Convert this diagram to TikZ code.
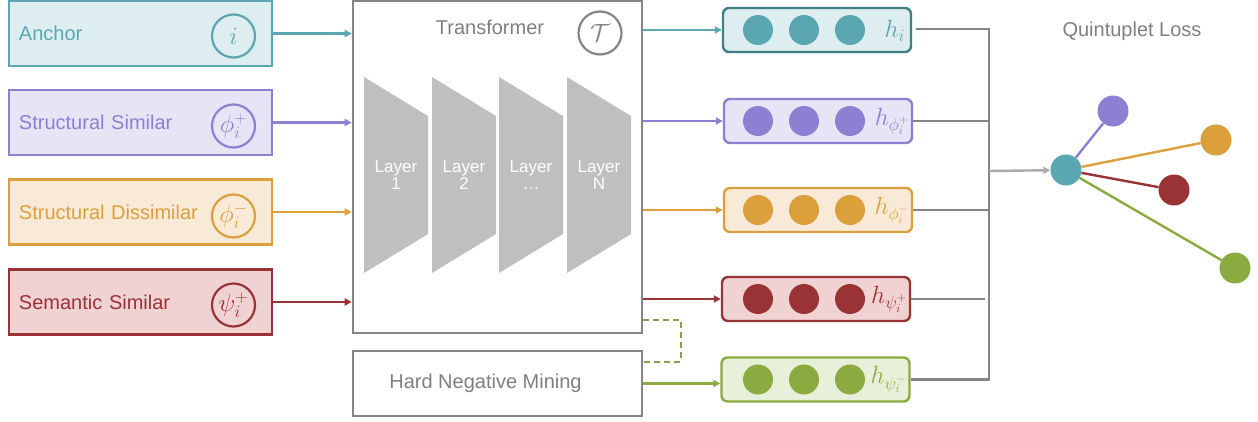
\documentclass[tikz,border=0pt]{standalone}
\usepackage{fontspec}
\setmainfont{Liberation Sans}
\usetikzlibrary{arrows.meta,calc}
\definecolor{cA}{HTML}{5AA7B1}
\definecolor{cAd}{HTML}{3F7F88}
\definecolor{fA}{HTML}{DDEDF0}
\definecolor{cP}{HTML}{8B80D1}
\definecolor{fP}{HTML}{E8E4F6}
\definecolor{cO}{HTML}{DBA03B}
\definecolor{fO}{HTML}{F8EAD6}
\definecolor{cR}{HTML}{993336}
\definecolor{fR}{HTML}{F0D2D3}
\definecolor{cG}{HTML}{8BAA40}
\definecolor{fG}{HTML}{E7F0D8}
\definecolor{gline}{HTML}{858585}
\definecolor{gtext}{HTML}{7F7F7F}
\definecolor{glayer}{HTML}{BFBFBF}
\begin{document}
\begin{tikzpicture}[x=1pt,y=-1pt,
  font=\fontsize{20}{24}\selectfont,
  inbox/.style={draw=#1, line width=2.4pt, text=#1, minimum width=263, minimum height=65,
     text width=243, inner xsep=10, align=left, anchor=center},
  symc/.style={circle, draw=#1, text=#1, line width=2.2pt, minimum size=43, inner sep=0pt,
     font=\fontsize{23}{26}\selectfont},
  inarrow/.style={draw=#1, line width=2.6pt, -{Triangle[length=7,width=7]}},
  emb/.style={draw=#1, line width=2.4pt, rounded corners=6, minimum width=188, minimum height=44},
  dot/.style={circle, fill=#1, minimum size=30, inner sep=0pt},
  hlab/.style={text=#1, anchor=east, inner sep=0pt, font=\fontsize{23}{26}\selectfont},
  layer/.style={fill=glayer, draw=none},
  laytext/.style={text=white, font=\fontsize{17}{17}\selectfont, align=center},
  gl/.style={draw=gline, line width=2.3pt},
  lossdot/.style={circle, fill=#1, minimum size=31, inner sep=0pt},
  losslink/.style={draw=#1, line width=2.4pt},
]
\useasboundingbox (0,0) rectangle (1258,421);

% input boxes
\node[inbox=cA, fill=fA] (anc) at (140.5,33.5) {Anchor};
\node[inbox=cP, fill=fP] (ss) at (140.5,122.5) {Structural Similar};
\node[inbox=cO, fill=fO] (sd) at (140.5,212) {Structural Dissimilar};
\node[inbox=cR, fill=fR] (sem) at (140.5,302) {Semantic Similar};
\node[symc=cA] (cAnc) at (233.5,36) {$i$};
\node[symc=cP] (cSs) at (233.5,126) {$\phi_i^+$};
\node[symc=cO] (cSd) at (233.5,216) {$\phi_i^-$};
\node[symc=cR] (cSem) at (233.5,305) {$\psi_i^+$};

% transformer
\node[draw=gline, line width=2.6pt, minimum width=289, minimum height=332] (tr) at (497.5,167) {};
\node[text=gtext] (trt) at (490,27) {Transformer};
\node[circle, draw=gline, text=gline, line width=2.2pt, minimum size=43, inner sep=0pt, font=\fontsize{23}{26}\selectfont] (trc) at (600,33) {$\mathcal{T}$};
\foreach \x/\t [count=\k] in {364/1,432/2,499/\dots,567/N}{
  \fill[layer] (\x,77) -- ++(64,39) -- ++(0,118) -- ++(-64,39) -- cycle;
  \node[laytext] (lay\k) at (\x+32,175) {Layer\\\t};
}
\node[draw=gline, line width=2.6pt, minimum width=289, minimum height=65, text=gtext] (hnm) at (497.5,383.5) {\hspace*{-24pt}Hard Negative Mining};

% input arrows
\draw[inarrow=cA] (anc.east) -- (anc.east -| tr.west);
\draw[inarrow=cP] (ss.east) -- (ss.east -| tr.west);
\draw[inarrow=cO] (sd.east) -- (sd.east -| tr.west);
\draw[inarrow=cR] (sem.east) -- (sem.east -| tr.west);

% embeddings
\node[emb=cAd, fill=fA] (e1) at (817,30) {};
\node[emb=cP, fill=fP] (e2) at (818,121) {};
\node[emb=cO, fill=fO] (e3) at (818,210) {};
\node[emb=cR, fill=fR] (e4) at (816,299) {};
\node[emb=cG, fill=fG] (e5) at (815.5,379.5) {};
\foreach \e/\c in {e1/cA,e2/cP,e3/cO,e4/cR,e5/cG}{
  \node[dot=\c] (\e a) at ($(\e.center -| 758,0)$) {};
  \node[dot=\c] (\e b) at ($(\e.center -| 804,0)$) {};
  \node[dot=\c] (\e c) at ($(\e.center -| 850,0)$) {};
}
\node[hlab=cA] (h1) at ($(e1.east)+(-7,1)$) {$h_i$};
\node[hlab=cP] (h2) at ($(e2.east)+(-4,0)$) {$h_{\phi_i^+}$};
\node[hlab=cO] (h3) at ($(e3.east)+(-4,0)$) {$h_{\phi_i^-}$};
\node[hlab=cR] (h4) at ($(e4.east)+(-4,0)$) {$h_{\psi_i^+}$};
\node[hlab=cG] (h5) at ($(e5.east)+(-4,0)$) {$h_{\psi_i^-}$};

% output arrows
\draw[inarrow=cA] (tr.east |- e1.west) -- (e1.west);
\draw[inarrow=cP] (tr.east |- e2.west) -- (e2.west);
\draw[inarrow=cO] (tr.east |- e3.west) -- (e3.west);
\draw[inarrow=cR] (tr.east |- e4.west) -- (e4.west);
\draw[inarrow=cG] (hnm.east) -- (hnm.east -| e5.west);

% dashed link
\coordinate (dk) at (681,0);
\draw[draw=cG!80!gray, line width=1.8pt, dash pattern=on 6pt off 4pt]
  ($(tr.east)+(0,153)$) -| ($(dk |- hnm.north)+(0,12)$) -- ($(hnm.north east)+(0,12)$);

% bus
\coordinate (bus) at (989,171);
\draw[gl] ($(e1.east)+(4,-1)$) -| (bus) |- (e5.east);
\draw[gl] (e2.east) -- (e2.east -| bus);
\draw[gl] (e3.east) -- (e3.east -| bus);
\draw[gl] (e4.east) -- ($(e4.east -| bus)+(-4,0)$);

% loss
\node[text=gtext] (lt) at (1132,31) {Quintuplet Loss};
\node[lossdot=cA] (qa) at (1066,170) {};
\node[lossdot=cP] (qp) at (1113,111) {};
\node[lossdot=cO] (qo) at (1216,140) {};
\node[lossdot=cR] (qr) at (1174,190) {};
\node[lossdot=cG] (qg) at (1235,268) {};
\draw[draw=gline!70, line width=2.4pt, -{Triangle[length=7,width=7]}] (bus) -- (qa);
\draw[losslink=cP] (qa) -- (qp);
\draw[losslink=cO] (qa) -- (qo);
\draw[losslink=cR] (qa) -- (qr);
\draw[losslink=cG] (qa) -- (qg);
\end{tikzpicture}
\end{document}
